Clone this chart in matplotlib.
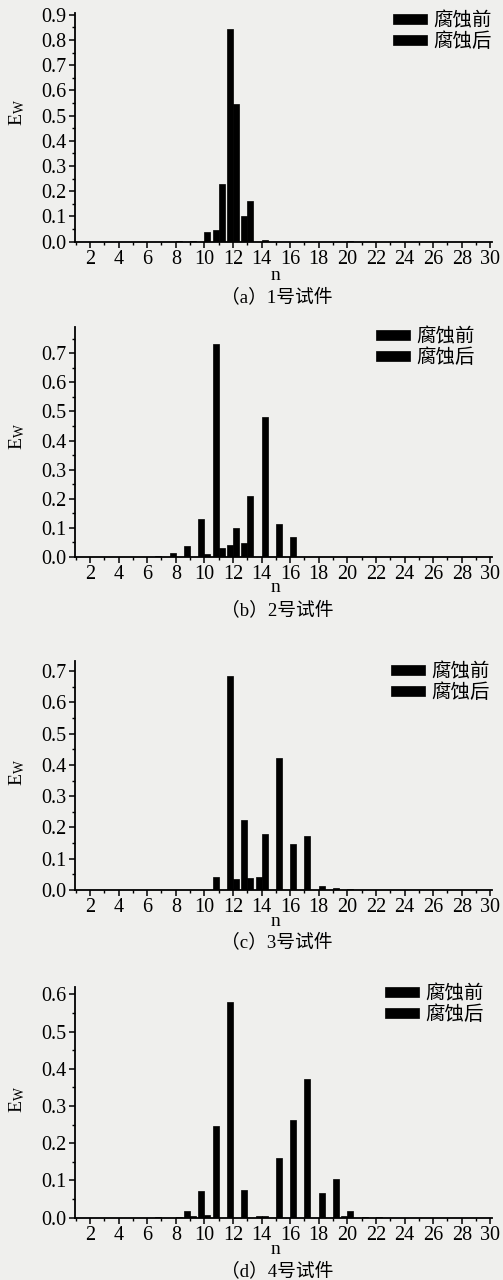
import matplotlib
matplotlib.use("Agg")
import matplotlib.pyplot as plt
from matplotlib.ticker import MultipleLocator
import numpy as np

n = list(range(1, 31))

def series(d):
    return [d.get(k, 0.0) for k in n]

before_a = series({11: 0.045, 12: 0.845, 13: 0.10})
after_a = series({8: 0.003, 9: 0.004, 10: 0.04, 11: 0.23, 12: 0.545, 13: 0.16, 14: 0.005, 20: 0.003})

before_b = series({7: 0.003, 8: 0.013, 9: 0.037, 10: 0.13, 11: 0.73, 12: 0.04, 13: 0.047})
after_b = series({10: 0.009, 11: 0.03, 12: 0.10, 13: 0.21, 14: 0.48, 15: 0.112, 16: 0.068})

before_c = series({11: 0.043, 12: 0.684, 13: 0.224, 14: 0.043})
after_c = series({12: 0.034, 13: 0.037, 14: 0.18, 15: 0.423, 16: 0.146, 17: 0.174, 18: 0.014,
                  19: 0.005, 20: 0.004, 21: 0.001})

before_d = series({7: 0.002, 9: 0.019, 10: 0.072, 11: 0.247, 12: 0.58, 13: 0.075, 14: 0.004, 20: 0.005})
after_d = series({8: 0.003, 9: 0.005, 10: 0.006, 14: 0.004, 15: 0.16, 16: 0.263, 17: 0.373,
                  18: 0.066, 19: 0.103, 20: 0.019, 21: 0.002, 22: 0.003})

labels = ["腐蚀前", "腐蚀后"]
captions = ["（a）1号试件", "（b）2号试件", "（c）3号试件", "（d）4号试件"]
ytops = [0.907, 0.79, 0.732, 0.62]
ymaxtick = [0.9, 0.7, 0.7, 0.6]

W, H = 503, 1280
fig = plt.figure(figsize=(W / 100, H / 100), dpi=100)
fig.patch.set_facecolor("#efefed")

serif = ["Liberation Serif", "DejaVu Serif"]
cjk = ["Liberation Serif", "Noto Sans CJK SC"]

# pixel layout: (top, bottom of axes), n label y, caption y
panels = [
    (13, 241.7, 275, 297),
    (327, 557, 588, 610),
    (661, 890, 921, 942),
    (987, 1217.7, 1249, 1271),
]
data = [(before_a, after_a), (before_b, after_b), (before_c, after_c), (before_d, after_d)]
ewy = [113, 437, 773, 1100]
leg_anchor = [(492, 10), (475, 326), (490, 661), (484, 983)]

left, right = 75, 492
x = np.array(n, dtype=float)
w = 0.42
for i, ((top, bot, ny, cy), (bef, aft)) in enumerate(zip(panels, data)):
    ax = fig.add_axes([left / W, 1 - bot / H, (right - left) / W, (bot - top) / H])
    ax.set_facecolor("none")
    ax.bar(x - w / 2, bef, width=w, color="black", edgecolor="black", linewidth=0.5, label=labels[0])
    ax.bar(x + w / 2, aft, width=w, color="black", edgecolor="black", linewidth=0.5, label=labels[1])
    ax.set_xlim(0.95, 30.12)
    ax.set_ylim(0, ytops[i])
    ax.spines["top"].set_visible(False)
    ax.spines["right"].set_visible(False)
    for s in ("left", "bottom"):
        ax.spines[s].set_linewidth(1.3)
    ax.set_xticks(np.arange(2, 31, 2))
    ax.xaxis.set_minor_locator(MultipleLocator(1))
    ax.set_yticks(np.round(np.arange(0, ymaxtick[i] + 0.001, 0.1), 1))
    ax.yaxis.set_minor_locator(MultipleLocator(0.05))
    ax.tick_params(axis="both", which="major", direction="out", length=4, width=1.1,
                   labelsize=14.5, pad=2)
    ax.tick_params(axis="both", which="minor", direction="out", length=2.5, width=1.0)
    ax.yaxis.set_major_formatter(matplotlib.ticker.FormatStrFormatter("%.1f"))
    for lab in ax.get_xticklabels() + ax.get_yticklabels():
        lab.set_family(serif)
    lx, ly = leg_anchor[i]
    ax.legend(loc="upper right", bbox_to_anchor=(lx / W, 1 - ly / H),
              bbox_transform=fig.transFigure, frameon=False,
              prop={"family": ["Noto Sans CJK SC"], "size": 14},
              handlelength=1.75, handleheight=0.45, handletextpad=0.35,
              labelspacing=0.0, borderaxespad=0.0, borderpad=0.0)
    fig.text(275 / W, 1 - ny / H, "n", ha="center", va="center", fontsize=14, family=serif)
    fig.text(277 / W, 1 - cy / H, captions[i], ha="center", va="center", fontsize=13.5, family=cjk)
    fig.text(17 / W, 1 - ewy[i] / H, r"$\mathregular{E_W}$", ha="center", va="center",
             rotation=90, fontsize=14, family=serif)

fig.savefig("out.png", dpi=100, facecolor=fig.get_facecolor())
